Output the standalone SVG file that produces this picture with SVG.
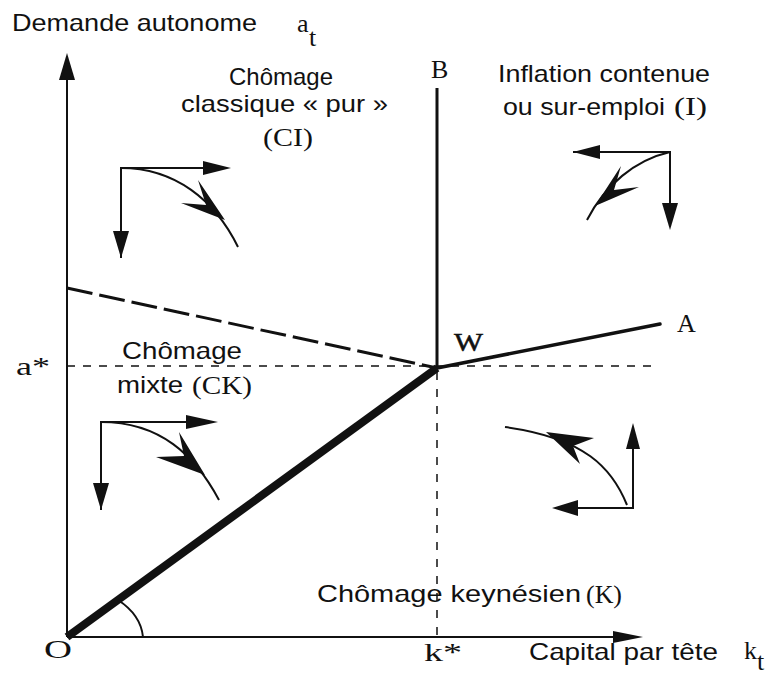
<svg xmlns="http://www.w3.org/2000/svg" width="769" height="686" viewBox="0 0 769 686">
<style>
.sans{font-family:"Liberation Sans",Arial,sans-serif;font-size:24px;fill:#111}
.serif{font-family:"Liberation Serif","Times New Roman",serif;font-size:26px;fill:#111}
.ln{stroke:#111;fill:none;stroke-width:2}
.hd{fill:#111;stroke:none}
</style>
<rect width="769" height="686" fill="#fff"/>
<g id="axes">
<line class="ln" x1="67" y1="637" x2="67" y2="75"/>
<polygon class="hd" points="67,53 59,80 75,80"/>
<line class="ln" x1="67" y1="637" x2="620" y2="637"/>
<polygon class="hd" points="643,637 613,631 613,643"/>
</g>
<g id="connectors">
<line stroke="#111" stroke-width="1.5" stroke-dasharray="8,8" x1="67" y1="366" x2="652" y2="366"/>
<line stroke="#111" stroke-width="1.5" stroke-dasharray="8,9" x1="437" y1="372" x2="437" y2="637"/>
<line stroke="#111" stroke-width="3" x1="437" y1="88" x2="437" y2="369"/>
<line stroke="#111" stroke-width="3" stroke-dasharray="26,7" x1="67" y1="288" x2="437" y2="368"/>
<line stroke="#111" stroke-width="3.5" stroke-linecap="round" x1="437" y1="368" x2="660" y2="324"/>
<line stroke="#111" stroke-width="8" x1="67" y1="637" x2="437" y2="368"/>
<path class="ln" stroke-width="1.6" d="M143,637 A76,55 0 0,0 118,600"/>
</g>
<g id="arrows-CI">
<path class="ln" d="M121,258 V168 H210"/>
<polygon class="hd" points="231,168 203,161 203,175"/>
<polygon class="hd" points="121,258 113,231 129,231"/>
<path class="ln" d="M121,168 C175,168 215,200 238,247"/>
<polygon class="hd" points="225,220 181,203 206,205 198,180"/>
</g>
<g id="arrows-CK">
<path class="ln" d="M101,510 V422 H195"/>
<polygon class="hd" points="218,422 186,415 186,429"/>
<polygon class="hd" points="101,510 93,483 109,483"/>
<path class="ln" d="M101,422 C160,422 195,455 219,500"/>
<polygon class="hd" points="205,475 156,457 184,456 179,432"/>
</g>
<g id="arrows-I">
<path class="ln" d="M573,152 H670 V210"/>
<polygon class="hd" points="573,152 600,145 600,159"/>
<polygon class="hd" points="670,230 662,203 678,203"/>
<path class="ln" d="M670,152 C635,160 605,185 587,220"/>
<polygon class="hd" points="595,206 639,187 614,190 621,166"/>
</g>
<g id="arrows-K">
<path class="ln" d="M570,508 H633 V440"/>
<polygon class="hd" points="552,508 578,500 578,516"/>
<polygon class="hd" points="633,423 626,449 640,449"/>
<path class="ln" d="M627,505 C612,468 585,438 505,427"/>
<polygon class="hd" points="546,432 594,438 573,446 580,464"/>
</g>
<g id="labels">
<text class="sans" x="12" y="31" textLength="245" lengthAdjust="spacingAndGlyphs">Demande autonome</text>
<text class="serif" x="297" y="32" font-size="24">a</text>
<text class="serif" x="309" y="46" font-size="18">t</text>
<text class="sans" x="229" y="85" textLength="104" lengthAdjust="spacingAndGlyphs">Chômage</text>
<text class="sans" x="181" y="112" textLength="207" lengthAdjust="spacingAndGlyphs">classique « pur »</text>
<text class="serif" x="263" y="146" textLength="50" lengthAdjust="spacingAndGlyphs">(CI)</text>
<text class="serif" x="431" y="78">B</text>
<text class="sans" x="498" y="82" textLength="212" lengthAdjust="spacingAndGlyphs">Inflation contenue</text>
<text class="sans" x="503" y="115" textLength="162" lengthAdjust="spacingAndGlyphs">ou sur-emploi</text>
<text class="serif" x="674" y="115" textLength="33" lengthAdjust="spacingAndGlyphs">(I)</text>
<text class="serif" x="454" y="351" stroke="#111" stroke-width="0.5" textLength="29" lengthAdjust="spacingAndGlyphs">W</text>
<text class="serif" x="677" y="332">A</text>
<text class="serif" x="16" y="375" textLength="34" lengthAdjust="spacingAndGlyphs">a*</text>
<text class="sans" x="122" y="359" textLength="120" lengthAdjust="spacingAndGlyphs">Chômage</text>
<text class="sans" x="117" y="393" textLength="66" lengthAdjust="spacingAndGlyphs">mixte</text>
<text class="serif" x="192" y="394" textLength="60" lengthAdjust="spacingAndGlyphs">(CK)</text>
<text class="sans" x="317" y="602" textLength="264" lengthAdjust="spacingAndGlyphs">Chômage keynésien</text>
<text class="serif" x="586" y="603" textLength="36" lengthAdjust="spacingAndGlyphs">(K)</text>
<text class="serif" x="44" y="658" textLength="28" lengthAdjust="spacingAndGlyphs">O</text>
<text class="serif" x="424" y="661" textLength="38" lengthAdjust="spacingAndGlyphs">k*</text>
<text class="sans" x="529" y="660" textLength="189" lengthAdjust="spacingAndGlyphs">Capital par tête</text>
<text class="serif" x="744" y="659">k</text>
<text class="serif" x="757" y="670" font-size="18">t</text>
</g>
</svg>
